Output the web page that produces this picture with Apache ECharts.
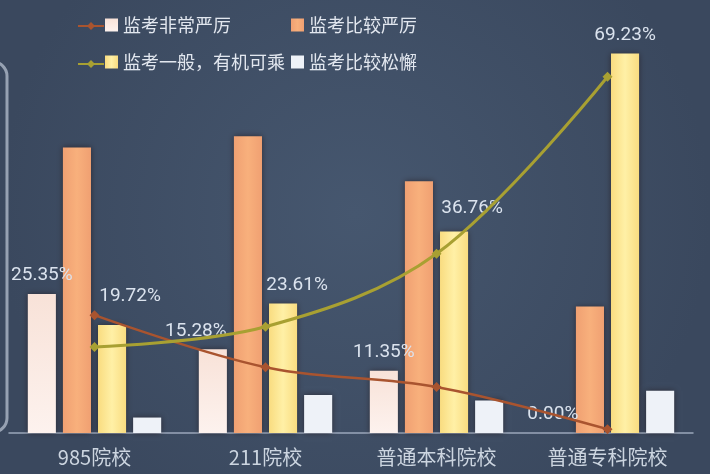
<!DOCTYPE html>
<html>
<head>
<meta charset="utf-8">
<script src="https://cdn.jsdelivr.net/npm/echarts@6/dist/echarts.min.js"></script>
<style>html,body{margin:0;padding:0;background:#3f4f68;}#c{width:710px;height:474px;}</style>
</head>
<body>
<div id="c"></div>
<script>
// ---- data ----
const categories = ['985院校', '211院校', '普通本科院校', '普通专科院校'];
const seriesNames = ['监考非常严厉', '监考比较严厉', '监考一般，有机可乘', '监考比较松懈'];
const verySevere = [25.35, 15.28, 11.35, 0.00];
const fairlySevere = [52.11, 54.17, 45.95, 23.08];
const average = [19.72, 23.61, 36.76, 69.23];
const loose = [2.82, 6.94, 5.95, 7.69];
// trend lines as drawn in the picture
const verySevereTrend = [21.5, 12.0, 8.4, 0.7];
const averageTrend = [15.7, 19.4, 32.7, 65.0];
const trendNames = ['非常严厉趋势', '一般趋势'];

const chart = echarts.init(document.getElementById('c'));
const G = echarts.graphic;
const labelFont = { color: '#dbe3ee', fontSize: 19, fontFamily: 'Roboto, "Noto Sans", sans-serif' };
const whiteOffsets = [[0, 0], [-17, 0], [0, 0], [-2, 0]];
const yellowOffsets = [[18, -10], [14, 0], [18, -5], [0, 0]];
const barShadow = { shadowColor: 'rgba(30,15,15,0.55)', shadowBlur: 6 };

function labeled(values, offsets) {
  return values.map((v, i) => ({ value: v, label: { offset: offsets[i] } }));
}

const legendText = { color: '#e2e7ef', fontSize: 18, lineHeight: 18, fontFamily: '"Noto Sans CJK SC"' };

const option = {
  backgroundColor: new G.RadialGradient(0.5, 0.45, 0.75, [
    { offset: 0, color: '#46576f' },
    { offset: 1, color: '#3a485e' }
  ]),
  animation: false,
  grid: { left: 9, right: 17, top: 22, bottom: 41 },
  legend: [
    { orient: 'vertical', left: 100, top: 11, itemGap: 19, itemWidth: 13, itemHeight: 13, icon: 'rect',
      textStyle: legendText, data: [seriesNames[0], seriesNames[2]] },
    { orient: 'vertical', left: 286, top: 11, itemGap: 19, itemWidth: 13, itemHeight: 13, icon: 'rect',
      textStyle: legendText, data: [seriesNames[1], seriesNames[3]] },
    { orient: 'vertical', left: 72, top: 17, itemGap: 30, itemWidth: 26, itemHeight: 10,
      formatter: () => '', textStyle: { fontSize: 10, lineHeight: 10 },
      data: trendNames }
  ],
  xAxis: {
    type: 'category', data: categories,
    axisLine: { lineStyle: { color: '#9aa7ba', width: 1.5 } },
    axisTick: { show: false },
    axisLabel: { color: '#ccd5e0', fontSize: 20, margin: 14, fontFamily: '"Noto Sans CJK SC"' }
  },
  yAxis: { type: 'value', min: 0, max: 75, show: false, splitLine: { show: false } },
  series: [
    { name: seriesNames[0], type: 'bar', barGap: '25%', barCategoryGap: '22%',
      data: labeled(verySevere, whiteOffsets),
      itemStyle: Object.assign({ color: new G.LinearGradient(0, 0, 0, 1, [
        { offset: 0, color: '#f8e2d8' }, { offset: 1, color: '#fdf2ee' }]) }, barShadow),
      label: Object.assign({ show: true, position: 'top', distance: 9,
        formatter: p => p.value.toFixed(2) + '%' }, labelFont) },
    { name: seriesNames[1], type: 'bar', data: fairlySevere,
      itemStyle: Object.assign({ color: new G.LinearGradient(0, 0, 1, 0, [
        { offset: 0, color: '#f0a072' }, { offset: 0.5, color: '#f8b07c' }, { offset: 1, color: '#f0a072' }]) }, barShadow) },
    { name: seriesNames[2], type: 'bar', data: labeled(average, yellowOffsets),
      itemStyle: Object.assign({ color: new G.LinearGradient(0, 0, 1, 0, [
        { offset: 0, color: '#f9dc80' }, { offset: 0.5, color: '#fff0a6' }, { offset: 1, color: '#f9dc80' }]) }, barShadow),
      label: Object.assign({ show: true, position: 'top', distance: 9,
        formatter: p => p.value.toFixed(2) + '%' }, labelFont) },
    { name: seriesNames[3], type: 'bar', data: loose,
      itemStyle: Object.assign({ color: '#eef2f8' }, barShadow) },
    { name: trendNames[0], type: 'line', smooth: 0.35, data: verySevereTrend, z: 5,
      symbol: 'diamond', symbolSize: 10,
      lineStyle: { color: '#a9542f', width: 2.5 }, itemStyle: { color: '#a9542f' } },
    { name: trendNames[1], type: 'line', smooth: 0.35, data: averageTrend, z: 5,
      symbol: 'diamond', symbolSize: 10,
      lineStyle: { color: '#a8a032', width: 3 }, itemStyle: { color: '#a8a032' } }
  ],
  graphic: [
    { type: 'rect', shape: { x: -200, y: 62, width: 207, height: 370, r: 14 },
      style: { fill: 'none', stroke: 'rgba(190,200,214,0.7)', lineWidth: 3 }, silent: true }
  ]
};
chart.setOption(option);
</script>
</body>
</html>
